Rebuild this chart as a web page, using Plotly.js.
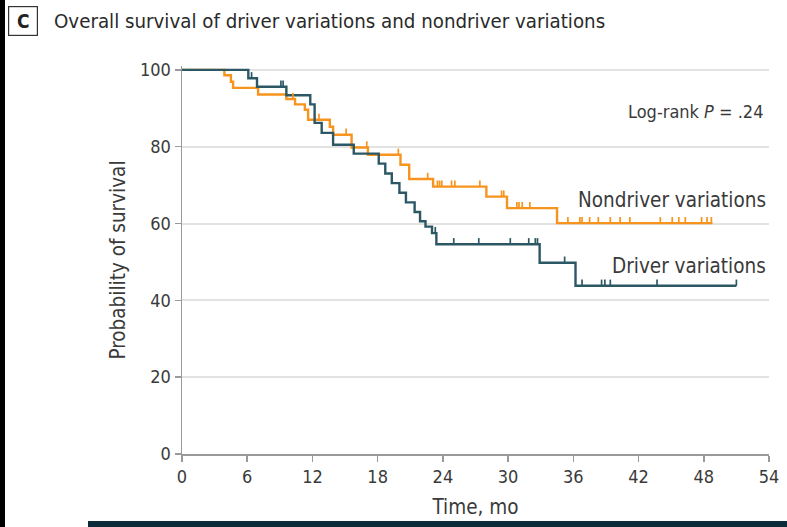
<!DOCTYPE html>
<html>
<head>
<meta charset="utf-8">
<script src="https://cdn.plot.ly/plotly-3.0.1.min.js"></script>
<style>
html,body{margin:0;padding:0;background:#fff;}
#chart{width:787px;height:527px;}
</style>
</head>
<body>
<div id="chart"></div>
<script>
// ---- data ----
const driverTimes = [0, 6.1, 6.9, 9.6, 11.8, 12.2, 12.85, 13.9, 15.8, 18.1, 18.7, 19.3, 20.0, 20.6, 21.4, 21.9, 22.4, 23.0, 23.4, 32.9, 36.2];
const driverSurv  = [100, 97.8, 95.6, 93.4, 91.0, 86.2, 83.6, 80.5, 78.2, 75.6, 73.0, 70.5, 68.0, 65.5, 63.0, 60.6, 59.2, 57.5, 54.6, 49.8, 43.8];
const driverLastFollowUp = 51.0;
const driverCensored = [6.4, 9.1, 9.3, 21.9, 23.3, 25.0, 27.3, 30.2, 31.9, 32.5, 32.7, 35.2, 36.8, 38.6, 38.9, 39.4, 43.7, 51.0];

const nondriverTimes = [0, 3.9, 4.5, 4.7, 7.0, 9.6, 10.4, 11.3, 11.6, 13.6, 13.9, 15.6, 17.1, 20.1, 20.9, 23.1, 28.0, 29.9, 34.5];
const nondriverSurv  = [100, 98.6, 96.9, 95.3, 93.6, 92.4, 91.0, 89.6, 87.0, 85.2, 83.1, 79.8, 77.9, 75.3, 71.6, 69.6, 67.0, 64.0, 60.1];
const nondriverLastFollowUp = 48.8;
const nondriverCensored = [10.2, 12.6, 15.1, 17.0, 19.9, 22.6, 23.5, 23.7, 23.9, 24.8, 25.1, 27.4, 29.4, 29.6, 30.8, 31.0, 31.3, 32.0, 35.5, 36.6, 36.8, 37.5, 38.3, 39.4, 40.3, 41.2, 44.0, 45.1, 45.7, 46.3, 47.8, 48.3, 48.7];

const xTickVals = [0, 6, 12, 18, 24, 30, 36, 42, 48, 54];
const yTickVals = [0, 20, 40, 60, 80, 100];

const seriesNames = ['Nondriver variations', 'Driver variations'];
const titleText = 'Overall survival of driver variations and nondriver variations';
const panelLetter = 'C';
const logRankText = 'Log-rank <i>P</i> = .24';
const xTitle = 'Time, mo';
const yTitle = 'Probability of survival';

// ---- styling ----
const TEAL = '#2c5866';
const ORANGE = '#f7941d';
const TXT = '#3a3a3a';
const FONT = 'DejaVu Sans Condensed, DejaVu Sans, sans-serif';

function survAt(times, surv, t){
  let v = surv[0];
  for (let i = 0; i < times.length; i++){ if (times[i] <= t) v = surv[i]; }
  return v;
}
function stepTrace(times, surv, last, color, name){
  return {
    x: times.concat([last]),
    y: surv.concat([surv[surv.length-1]]),
    type: 'scatter', mode: 'lines', name: name,
    line: {shape: 'hv', color: color, width: 2.4},
    hoverinfo: 'skip'
  };
}
function censorTrace(times, surv, cens, color, name){
  return {
    x: cens,
    y: cens.map(t => survAt(times, surv, t)),
    type: 'scatter', mode: 'markers', name: name + ' censored',
    marker: {size: 2, opacity: 0, color: color},
    error_y: {type: 'constant', symmetric: false, value: 1.6, valueminus: 0, width: 0, thickness: 1.7, color: color},
    hoverinfo: 'skip'
  };
}

const traces = [
  stepTrace(nondriverTimes, nondriverSurv, nondriverLastFollowUp, ORANGE, seriesNames[0]),
  stepTrace(driverTimes, driverSurv, driverLastFollowUp, TEAL, seriesNames[1]),
  censorTrace(nondriverTimes, nondriverSurv, nondriverCensored, ORANGE, seriesNames[0]),
  censorTrace(driverTimes, driverSurv, driverCensored, TEAL, seriesNames[1])
];

// pixel helpers for decorations
const W = 787, H = 527;
const M = {l: 182, r: 18, t: 66, b: 73};
const pw = W - M.l - M.r, ph = H - M.t - M.b;
const px = v => (v - M.l) / pw;          // page px -> paper x
const py = v => (H - M.b - v) / ph;      // page px -> paper y

const layout = {
  width: W, height: H,
  margin: M,
  paper_bgcolor: '#fff', plot_bgcolor: '#fff',
  showlegend: false,
  font: {family: FONT, color: TXT, size: 18},
  xaxis: {
    range: [0, 54], tickvals: xTickVals, ticktext: xTickVals.map(String),
    showgrid: false, zeroline: false,
    showline: true, linecolor: '#9a9a9a', linewidth: 1.5,
    ticks: 'outside', ticklen: 6, tickcolor: '#9a9a9a', tickwidth: 1.5,
    tickfont: {family: FONT, size: 18, color: TXT},
    title: {text: xTitle, font: {family: FONT, size: 20.5, color: TXT}, standoff: 13},
    fixedrange: true
  },
  yaxis: {
    range: [0, 101], tickvals: yTickVals, ticktext: yTickVals.map(String),
    showgrid: true, gridcolor: '#e2e2e2', gridwidth: 2,
    zeroline: false,
    showline: true, linecolor: '#9a9a9a', linewidth: 1.5,
    ticks: 'outside', ticklen: 6, tickcolor: '#9a9a9a', tickwidth: 1.5,
    tickfont: {family: FONT, size: 18, color: TXT},
    title: {text: yTitle, font: {family: FONT, size: 20.5, color: TXT}, standoff: 9},
    fixedrange: true
  },
  annotations: [
    {xref: 'paper', yref: 'paper', x: px(23), y: py(21), xanchor: 'center', yanchor: 'middle',
     text: '<b>' + panelLetter + '</b>', showarrow: false,
     font: {family: FONT, size: 19, color: '#222'},
     bordercolor: '#333', borderwidth: 1.2, borderpad: 3, width: 22, height: 22},
    {xref: 'paper', yref: 'paper', x: px(52), y: py(21), xanchor: 'left', yanchor: 'middle',
     text: titleText, showarrow: false, font: {family: FONT, size: 20.3, color: '#2a2a2a'}},
    {xref: 'paper', yref: 'paper', x: px(765), y: py(111), xanchor: 'right', yanchor: 'middle',
     text: logRankText, showarrow: false, font: {family: FONT, size: 18, color: TXT}},
    {xref: 'paper', yref: 'paper', x: px(768), y: py(200), xanchor: 'right', yanchor: 'middle',
     text: seriesNames[0], showarrow: false, font: {family: FONT, size: 20.5, color: TXT}},
    {xref: 'paper', yref: 'paper', x: px(768), y: py(266), xanchor: 'right', yanchor: 'middle',
     text: seriesNames[1], showarrow: false, font: {family: FONT, size: 20.5, color: TXT}}
  ],
  shapes: [
    {type: 'rect', xref: 'paper', yref: 'paper', x0: px(0), x1: px(5), y0: py(0), y1: py(H), fillcolor: '#000', line: {width: 0}, layer: 'above'},
    {type: 'rect', xref: 'paper', yref: 'paper', x0: px(88), x1: px(W), y0: py(521), y1: py(H), fillcolor: '#0b2d3a', line: {width: 0}, layer: 'above'}
  ]
};

Plotly.newPlot('chart', traces, layout, {staticPlot: true, displayModeBar: false});
</script>
</body>
</html>
